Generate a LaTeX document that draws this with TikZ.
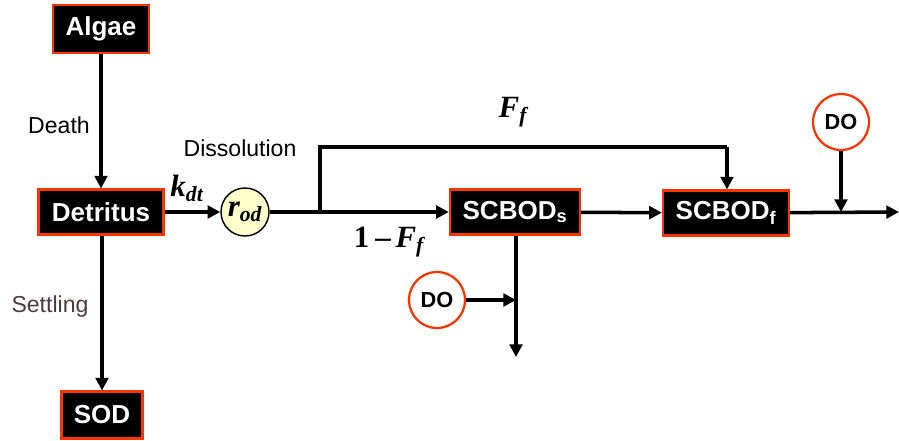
\documentclass[tikz,border=0pt]{standalone}
\usepackage{fontspec}
\setmainfont{Liberation Sans}
\newfontfamily\tmsfont{Liberation Serif}
\usetikzlibrary{arrows.meta}
\definecolor{boxedge}{RGB}{255,51,0}
\definecolor{rodfill}{RGB}{255,255,204}
\definecolor{settlegray}{RGB}{77,59,59}
\newcommand{\bim}[1]{{\tmsfont\bfseries\itshape #1}}

\begin{document}
\begin{tikzpicture}[x=0.025cm, y=-0.025cm,
    pool/.style={rectangle, draw=boxedge, fill=black, line width=1.6pt,
                 text=white, font=\fontsize{18.5}{20}\selectfont\bfseries,
                 inner sep=0pt},
    oxy/.style={circle, draw=boxedge, fill=white, line width=1.6pt,
                minimum size=1.4cm, inner sep=0pt,
                font=\fontsize{15.5}{17}\selectfont\bfseries},
    rate/.style={font=\fontsize{22}{24}\selectfont},
    proc/.style={font=\fontsize{16.4}{18}\selectfont},
    link/.style={-{Triangle[length=9pt, width=9pt]}, line width=2.5pt},
    wire/.style={line width=2.5pt}
]
    \useasboundingbox (0,0) rectangle (899,440);

    \node[pool, minimum width=2.4cm, minimum height=1.2cm] (algae) at (101,29) {Algae};
    \node[pool, minimum width=3.12cm, minimum height=1.12cm] (detritus) at (101,212) {Detritus};
    \node[pool, minimum width=2.02cm, minimum height=1.17cm] (sod) at (102,415) {SOD};
    \node[circle, draw, fill=rodfill, line width=1pt, minimum size=1.2cm,
          inner sep=0pt, rate] (rod) at (245,212) {\bim{r}\textsubscript{\bim{od}}};
    \node[pool, minimum width=3.25cm, minimum height=1.12cm] (scbods) at (515,212) {SCBOD\textsubscript{s}};
    \node[pool, minimum width=3.15cm, minimum height=1.12cm] (scbodf) at (726,213) {SCBOD\textsubscript{f}};
    \node[oxy] (dotop) at (841,122) {DO};
    \node[oxy] (dobot) at (437,300) {DO};

    \coordinate (split) at (320,212);
    \coordinate (bypass) at (727,147);
    \coordinate (sink) at (516,357);
    \coordinate (outlet) at (899,212);

    % detritus pathway
    \draw[link] (algae) -- (detritus);
    \draw[link] (detritus.south -| sod.north) -- (sod);
    \draw[link] (detritus) -- (rod);

    % dissolution split
    \draw[link] (rod) -- (scbods);
    \draw[wire] (split) |- (bypass);
    \draw[link] (bypass) -- (bypass |- scbodf.north);
    \draw[link] (scbods) -- (scbodf);
    \draw[link] (scbodf) -- (outlet);
    \draw[link] (dotop) -- (dotop |- outlet);
    \draw[link] (scbods.south -| sink) -- (sink);
    \draw[link] (dobot) -- (dobot -| sink);

    % labels
    \node[proc] (death) at (59,125) {Death};
    \node[proc] (dissol) at (240,148) {Dissolution};
    \node[proc, text=settlegray] (settle) at (50,307) {Settling};
    \node[rate] (kdt) at (187,188) {\bim{k}\textsubscript{\bim{dt}}};
    \node[rate] (ff) at (513,112) {\bim{F}\textsubscript{\bim{f}}};
    \node[rate] (oneff) at (389,242) {{\tmsfont\bfseries 1\kern0.2em–\kern0.15em}\bim{F}\textsubscript{\bim{f}}};
\end{tikzpicture}
\end{document}
